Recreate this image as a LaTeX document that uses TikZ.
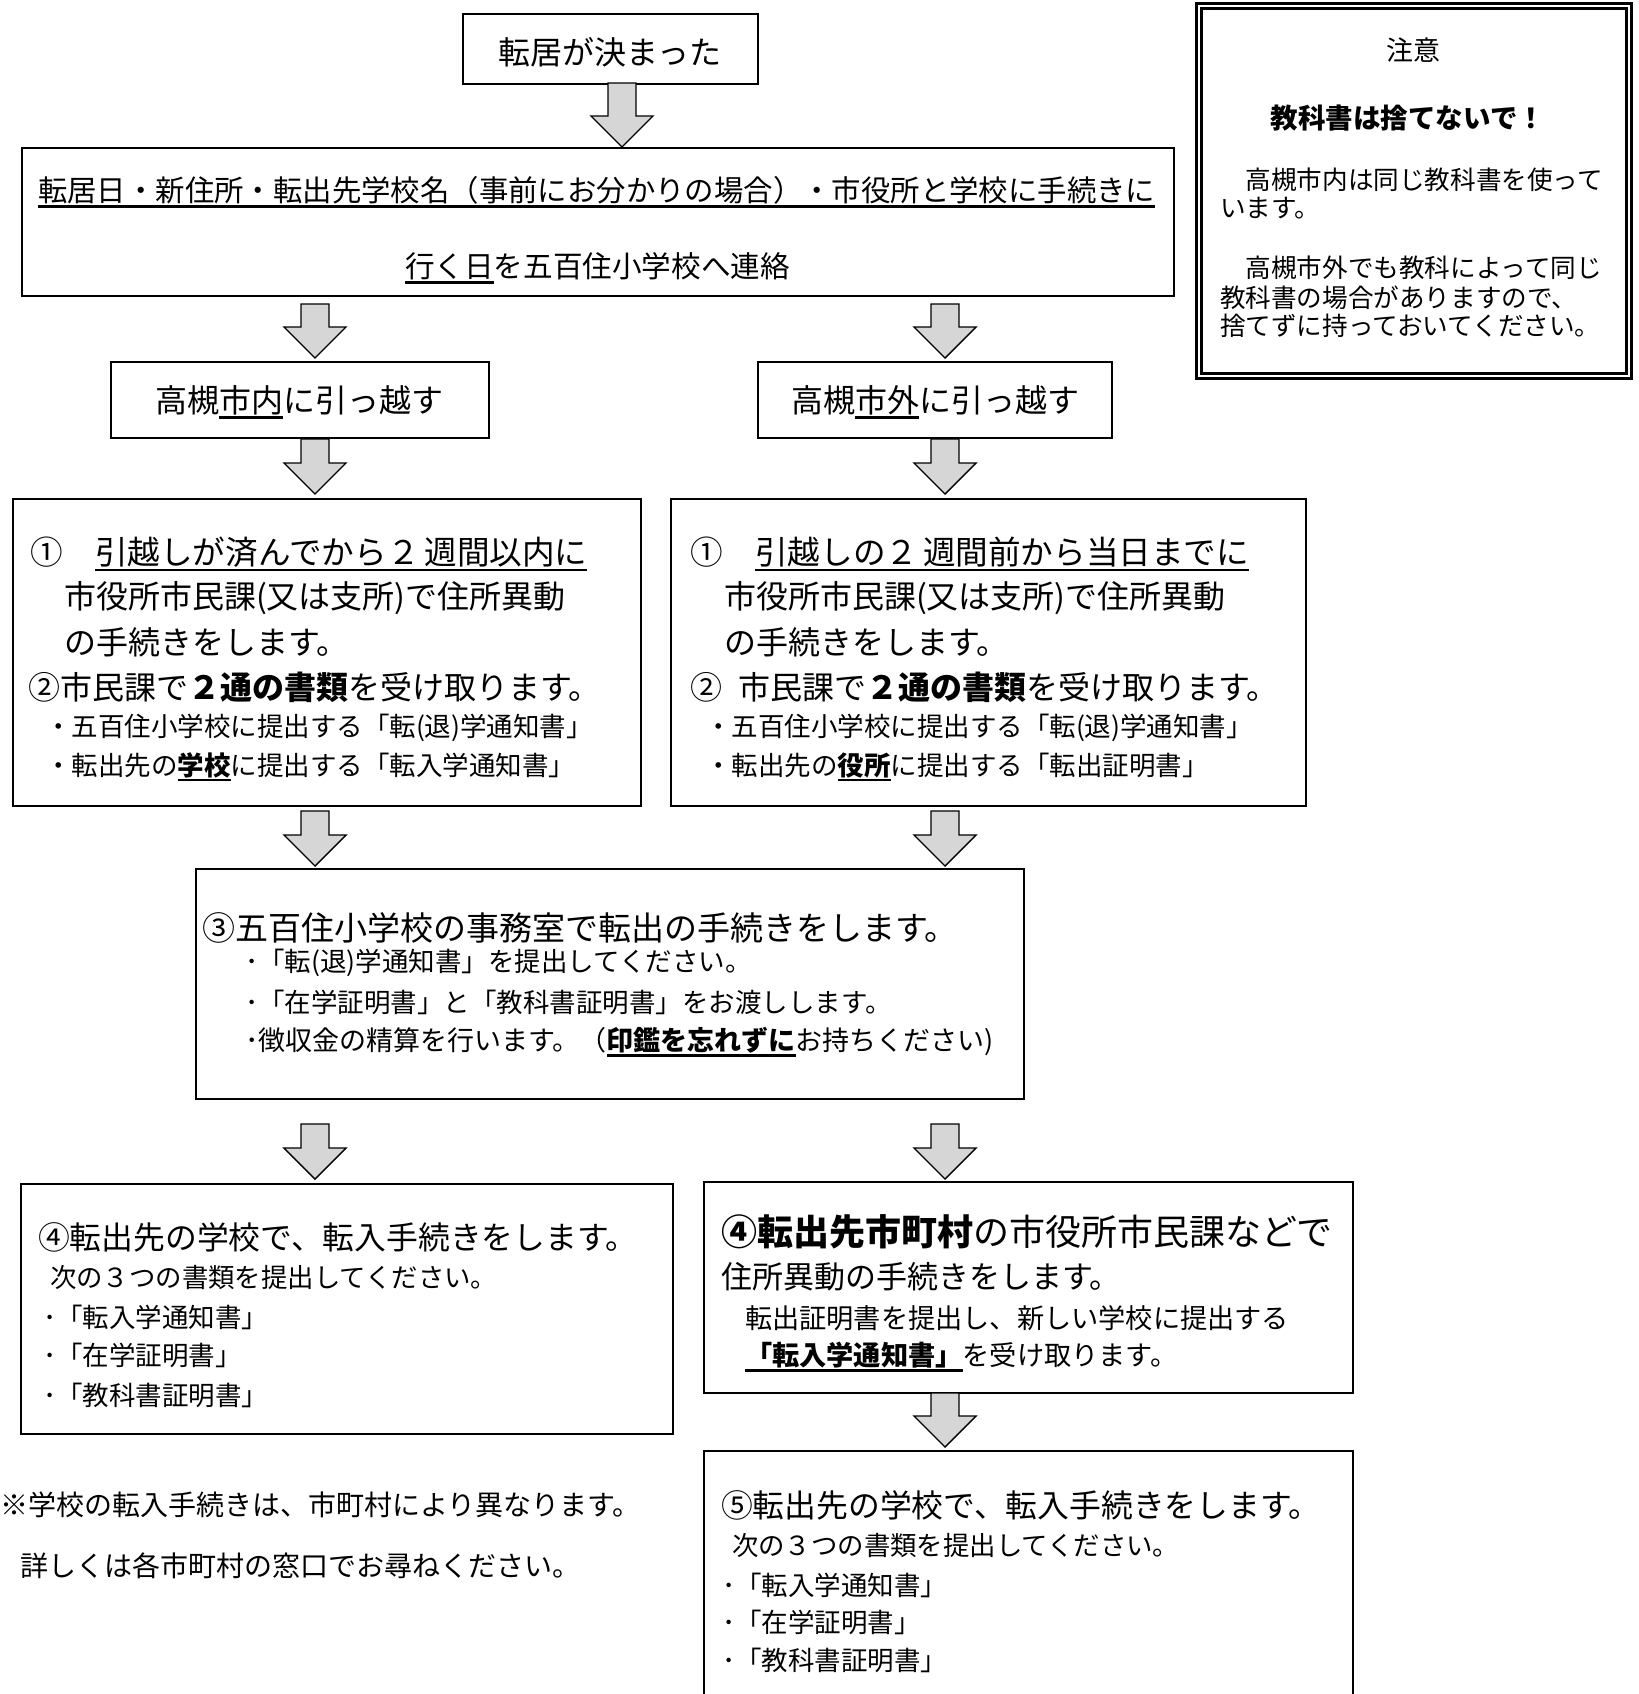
\documentclass[tikz,border=0pt]{standalone}
\usepackage{fontspec}
\newfontfamily\jp{Noto Sans CJK JP}
\usetikzlibrary{calc}
\definecolor{arrowgray}{gray}{0.84}
\newcommand\ulx[1]{\setbox0=\hbox{#1}\rlap{\rule[-0.22em]{\wd0}{2.6pt}}\box0}
\newcommand\fs[1]{\fontsize{#1}{#1}\selectfont}
\newcommand\blockarrow[2]{%
  \draw[barrow] let \p1=(#1), \p2=(#2) in
    (\x1-14pt,\y1) -- (\x1+14pt,\y1) -- (\x1+14pt,\y2+31pt) -- (\x1+31pt,\y2+31pt)
    -- (\x1,\y2) -- (\x1-31pt,\y2+31pt) -- (\x1-14pt,\y2+31pt) -- cycle;}
\tikzset{
  box/.style={draw=black, line width=2pt, fill=white, anchor=north west, inner sep=0pt},
  txt/.style={anchor=west, inner sep=0pt, outer sep=0pt},
  barrow/.style={draw=black, fill=arrowgray, line width=1.4pt, line join=miter},
}
\begin{document}
\begin{tikzpicture}[x=1pt,y=-1pt]
\useasboundingbox (0,0) rectangle (1638,1694);
\clip (0,0) rectangle (1638,1694);

% ---------- boxes ----------
\node[box, minimum width=295pt, minimum height=70pt] (boxA) at (462,13) {};
\node[box, minimum width=1152pt, minimum height=148pt] (boxB) at (21,147) {};
\node[draw=black, line width=2.8pt, double=white, double distance=2pt, anchor=north west,
      minimum width=430.4pt, minimum height=369.9pt, inner sep=0pt] (note) at (1197.3,4.8) {};
\node[box, minimum width=378pt, minimum height=76pt] (boxC1) at (110,361) {};
\node[box, minimum width=354pt, minimum height=76pt] (boxC2) at (757,361) {};
\node[box, minimum width=628pt, minimum height=307pt] (boxD1) at (12,498) {};
\node[box, minimum width=635pt, minimum height=307pt] (boxD2) at (670,498) {};
\node[box, minimum width=828pt, minimum height=230pt] (boxE) at (195,868) {};
\node[box, minimum width=652pt, minimum height=250pt] (boxF1) at (20,1183) {};
\node[box, minimum width=649pt, minimum height=211pt] (boxF2) at (703,1181) {};
\node[box, minimum width=649pt, minimum height=270pt] (boxG) at (703,1450) {};

% ---------- arrows ----------
\coordinate (a1s) at (622,83);   \coordinate (a1e) at (622,147);
\coordinate (a2s) at (315,304);  \coordinate (a2e) at (315,358);
\coordinate (a3s) at (945,304);  \coordinate (a3e) at (945,358);
\coordinate (a4s) at (315,439);  \coordinate (a4e) at (315,494);
\coordinate (a5s) at (945,439);  \coordinate (a5e) at (945,494);
\coordinate (a6s) at (315,811);  \coordinate (a6e) at (315,866);
\coordinate (a7s) at (945,811);  \coordinate (a7e) at (945,866);
\coordinate (a8s) at (315,1124); \coordinate (a8e) at (315,1179);
\coordinate (a9s) at (945,1124); \coordinate (a9e) at (945,1179);
\coordinate (a10s) at (945,1393); \coordinate (a10e) at (945,1447);
\blockarrow{a1s}{a1e}
\blockarrow{a2s}{a2e}
\blockarrow{a3s}{a3e}
\blockarrow{a4s}{a4e}
\blockarrow{a5s}{a5e}
\blockarrow{a6s}{a6e}
\blockarrow{a7s}{a7e}
\blockarrow{a8s}{a8e}
\blockarrow{a9s}{a9e}
\blockarrow{a10s}{a10e}

% ---------- texts ----------
\node[txt, anchor=center, font=\jp\fs{32}] (tA) at (610,52) {転居が決まった};
\node[txt, font=\jp\fs{29.4}] (tB1) at (38,192) {\ulx{転居日・新住所・転出先学校名（事前にお分かりの場合）・市役所と学校に手続きに}};
\node[txt, font=\jp\fs{29.6}] (tB2) at (405,268) {\ulx{行く日}を五百住小学校へ連絡};

\node[txt, anchor=center, font=\jp\fs{27}] (n1) at (1413,50) {注意};
\node[txt, anchor=center, font=\jp\bfseries\fs{27.5}] (n2) at (1408,118) {教科書は捨てないで！};
\node[txt, font=\jp\fs{25.6}] (n3) at (1220,180) {　高槻市内は同じ教科書を使って};
\node[txt, font=\jp\fs{25.6}] (n4) at (1220,208) {います。};
\node[txt, font=\jp\fs{25.6}] (n5) at (1220,268) {　高槻市外でも教科によって同じ};
\node[txt, font=\jp\fs{25.6}] (n6) at (1220,298) {教科書の場合がありますので、};
\node[txt, font=\jp\fs{25.6}] (n7) at (1220,326) {捨てずに持っておいてください。};

\node[txt, anchor=center, font=\jp\fs{32}] (tC1) at (299,402) {高槻\ulx{市内}に引っ越す};
\node[txt, anchor=center, font=\jp\fs{32}] (tC2) at (935,402) {高槻\ulx{市外}に引っ越す};

\node[txt, font=\jp\fs{32.6}] (d1a) at (30,554) {①　\ulx{引越しが済んでから２\kern0.15em 週間以内に}};
\node[txt, font=\jp\fs{32}] (d1b) at (64,598) {市役所市民課(又は支所)で住所異動};
\node[txt, font=\jp\fs{32}] (d1c) at (64,642) {の手続きをします。};
\node[txt, font=\jp\fs{32}] (d1d) at (28,687) {②市民課で{\bfseries ２通の書類}を受け取ります。};
\node[txt, font=\jp\fs{26.5}] (d1e) at (45,728) {・五百住小学校に提出する「転(退)学通知書」};
\node[txt, font=\jp\fs{26.5}] (d1f) at (45,767) {・転出先の\ulx{\bfseries 学校}に提出する「転入学通知書」};

\node[txt, font=\jp\fs{32.6}] (d2a) at (690,554) {①　\ulx{引越しの２\kern0.15em 週間前から当日までに}};
\node[txt, font=\jp\fs{32}] (d2b) at (724,598) {市役所市民課(又は支所)で住所異動};
\node[txt, font=\jp\fs{32}] (d2c) at (724,642) {の手続きをします。};
\node[txt, font=\jp\fs{32}] (d2d) at (690,687) {②\kern0.5em 市民課で{\bfseries ２通の書類}を受け取ります。};
\node[txt, font=\jp\fs{26.5}] (d2e) at (705,728) {・五百住小学校に提出する「転(退)学通知書」};
\node[txt, font=\jp\fs{26.5}] (d2f) at (705,767) {・転出先の\ulx{\bfseries 役所}に提出する「転出証明書」};

\node[txt, font=\jp\fs{33}] (e1) at (202,928) {③五百住小学校の事務室で転出の手続きをします。};
\node[txt, font=\jp\fs{26.5}] (e2) at (245,963) {･「転(退)学通知書」を提出してください。};
\node[txt, font=\jp\fs{26.5}] (e3) at (245,1002) {･「在学証明書」と「教科書証明書」をお渡しします。};
\node[txt, font=\jp\fs{27}] (e4) at (245,1042) {･徴収金の精算を行います。（\ulx{\bfseries 印鑑を忘れずに}お持ちください)};

\node[txt, font=\jp\fs{31.8}] (f1a) at (38,1237) {④転出先の学校で、転入手続きをします。};
\node[txt, font=\jp\fs{26.4}] (f1b) at (50,1277) {次の３つの書類を提出してください。};
\node[txt, font=\jp\fs{26.5}] (f1c) at (43,1317) {･「転入学通知書」};
\node[txt, font=\jp\fs{26.5}] (f1d) at (43,1355) {･「在学証明書」};
\node[txt, font=\jp\fs{26.5}] (f1e) at (43,1395) {･「教科書証明書」};

\node[txt, font=\jp\fs{36}] (f2a) at (721,1232) {{\bfseries ④転出先市町村}の市役所市民課などで};
\node[txt, font=\jp\fs{31}] (f2b) at (721,1277) {住所異動の手続きをします。};
\node[txt, font=\jp\fs{27.2}] (f2c) at (745,1318) {転出証明書を提出し、新しい学校に提出する};
\node[txt, font=\jp\fs{27.2}] (f2d) at (745,1357) {\ulx{\bfseries 「転入学通知書」}を受け取ります。};

\node[txt, font=\jp\fs{31.8}] (g1) at (721,1505) {⑤転出先の学校で、転入手続きをします。};
\node[txt, font=\jp\fs{26.4}] (g2) at (732,1545) {次の３つの書類を提出してください。};
\node[txt, font=\jp\fs{26.5}] (g3) at (722,1585) {･「転入学通知書」};
\node[txt, font=\jp\fs{26.5}] (g4) at (722,1622) {･「在学証明書」};
\node[txt, font=\jp\fs{26.5}] (g5) at (722,1660) {･「教科書証明書」};

\node[txt, font=\jp\fs{28}] (fn1) at (0,1505) {※学校の転入手続きは、市町村により異なります。};
\node[txt, font=\jp\fs{28}] (fn2) at (20,1566) {詳しくは各市町村の窓口でお尋ねください。};
\end{tikzpicture}
\end{document}
